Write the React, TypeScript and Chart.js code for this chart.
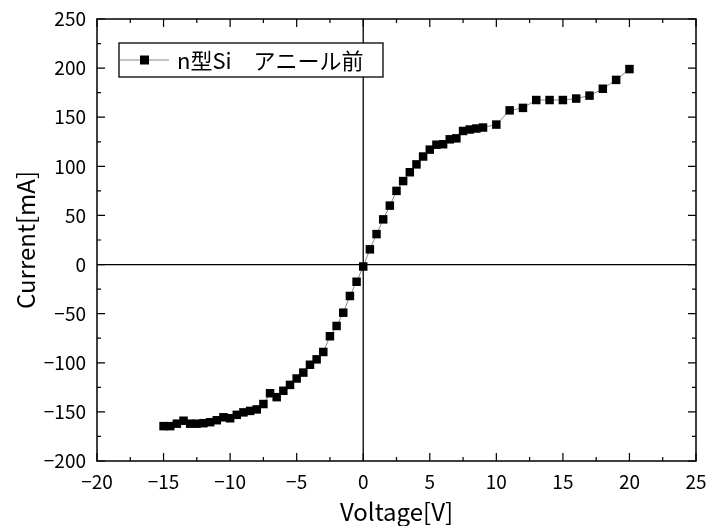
import React, { useEffect, useRef } from "react";
import { Chart, registerables } from "chart.js";

Chart.register(...registerables);

// I-V sweep of the n-type Si sample before annealing
const voltage = [
  -15, -14.5, -14, -13.5, -13, -12.5, -12, -11.5, -11, -10.5, -10, -9.5, -9, -8.5, -8, -7.5,
  -7, -6.5, -6, -5.5, -5, -4.5, -4, -3.5, -3, -2.5, -2, -1.5, -1, -0.5, 0, 0.5, 1, 1.5, 2,
  2.5, 3, 3.5, 4, 4.5, 5, 5.5, 6, 6.5, 7, 7.5, 8, 8.5, 9, 10, 11, 12, 13, 14, 15, 16, 17, 18,
  19, 20,
];
const current = [
  -164.5, -164.5, -162, -159, -162, -162, -161.5, -160.5, -158.5, -155.5, -156.5, -153, -150.5,
  -149, -147.5, -142, -131, -135, -128.5, -122.5, -116, -110, -102, -96.5, -89, -73, -62.5, -49,
  -32, -17.5, -2, 15.5, 31, 46, 60, 75, 85, 94, 102, 110, 117, 122, 122.5, 127.5, 128.5, 136,
  137.5, 138.5, 139.5, 142.5, 157, 159.5, 167.5, 167.5, 167.5, 169, 172, 179, 188, 199,
];

const seriesLabel = "n型Si\u3000アニール前";
const xTitle = "Voltage[V]";
const yTitle = "Current[mA]";

const xMin = -20, xMax = 25, xStep = 5;
const yMin = -200, yMax = 250, yStep = 50;

const family = '"Noto Sans CJK JP", "Noto Sans", sans-serif';

const withMinus = (v: number | string) => String(v).replace("-", "\u2212");

// Frame, inward ticks on all four sides, and the zero cross-hair
const framePlugin = {
  id: "originFrame",
  beforeDatasetsDraw(chart: any) {
    const { ctx, chartArea: a, scales } = chart;
    const x0 = scales.x.getPixelForValue(0);
    const y0 = scales.y.getPixelForValue(0);
    ctx.save();
    ctx.strokeStyle = "#000";
    ctx.lineWidth = 1.3;
    ctx.beginPath();
    ctx.moveTo(x0, a.top);
    ctx.lineTo(x0, a.bottom);
    ctx.moveTo(a.left, y0);
    ctx.lineTo(a.right, y0);
    ctx.stroke();
    ctx.restore();
  },
  afterDatasetsDraw(chart: any) {
    const { ctx, chartArea: a, scales } = chart;
    const major = 8, minor = 4;
    ctx.save();
    ctx.strokeStyle = "#000";
    ctx.lineWidth = 1.5;
    ctx.strokeRect(a.left, a.top, a.right - a.left, a.bottom - a.top);
    ctx.lineWidth = 1.2;
    ctx.beginPath();
    for (let v = xMin; v <= xMax + 1e-9; v += xStep / 2) {
      const px = scales.x.getPixelForValue(v);
      const len = Math.abs(v % xStep) < 1e-9 ? major : minor;
      ctx.moveTo(px, a.bottom);
      ctx.lineTo(px, a.bottom - len);
      ctx.moveTo(px, a.top);
      ctx.lineTo(px, a.top + len);
    }
    for (let v = yMin; v <= yMax + 1e-9; v += yStep / 2) {
      const py = scales.y.getPixelForValue(v);
      const len = Math.abs(v % yStep) < 1e-9 ? major : minor;
      ctx.moveTo(a.left, py);
      ctx.lineTo(a.left + len, py);
      ctx.moveTo(a.right, py);
      ctx.lineTo(a.right - len, py);
    }
    ctx.stroke();
    ctx.restore();
  },
  afterDraw(chart: any) {
    // legend box in the upper-left corner of the plot
    const { ctx, chartArea: a } = chart;
    const bx = a.left + 22, by = a.top + 24, bw = 264, bh = 34;
    const cy = by + bh / 2;
    ctx.save();
    ctx.fillStyle = "#fff";
    ctx.fillRect(bx, by, bw, bh);
    ctx.strokeStyle = "#000";
    ctx.lineWidth = 1.3;
    ctx.strokeRect(bx, by, bw, bh);
    ctx.strokeStyle = "#888";
    ctx.lineWidth = 1;
    ctx.beginPath();
    ctx.moveTo(bx + 1, cy);
    ctx.lineTo(bx + 50, cy);
    ctx.stroke();
    ctx.fillStyle = "#000";
    ctx.fillRect(bx + 21, cy - 4.5, 9, 9);
    ctx.font = `22px ${family}`;
    ctx.textBaseline = "middle";
    ctx.textAlign = "left";
    ctx.fillText(seriesLabel, bx + 58, cy + 1);
    ctx.restore();
  },
};

export default function App() {
  const canvasRef = useRef<HTMLCanvasElement | null>(null);

  useEffect(() => {
    if (!canvasRef.current) return;
    const points = voltage.map((v, i) => ({ x: v, y: current[i] }));
    const chart = new Chart(canvasRef.current, {
      type: "scatter",
      data: {
        datasets: [
          {
            label: seriesLabel,
            data: points,
            showLine: true,
            borderColor: "#888",
            borderWidth: 1,
            pointStyle: "rect",
            pointRadius: 6,
            pointHoverRadius: 6,
            pointBackgroundColor: "#000",
            pointBorderColor: "#000",
            pointBorderWidth: 0,
          },
        ],
      },
      plugins: [framePlugin],
      options: {
        animation: false,
        responsive: false,
        maintainAspectRatio: false,
        events: [],
        layout: { padding: { top: 19, right: 13, left: 0, bottom: 0 } },
        plugins: { legend: { display: false }, tooltip: { enabled: false } },
        scales: {
          x: {
            type: "linear",
            position: "bottom",
            min: xMin,
            max: xMax,
            afterFit: (s: any) => {
              s.height = 65;
              s.paddingLeft = 0;
              s.paddingRight = 0;
            },
            grid: { display: false, drawTicks: false },
            border: { display: false },
            ticks: {
              stepSize: xStep,
              color: "#000",
              padding: 9,
              maxRotation: 0,
              font: { family, size: 19 },
              callback: (v: any) => withMinus(v),
            },
            title: {
              display: true,
              text: xTitle,
              color: "#000",
              font: { family, size: 24 },
              padding: { top: 0, bottom: 0 },
            },
          },
          y: {
            type: "linear",
            min: yMin,
            max: yMax,
            afterFit: (s: any) => {
              s.width = 97;
              s.paddingTop = 0;
              s.paddingBottom = 0;
            },
            grid: { display: false, drawTicks: false },
            border: { display: false },
            ticks: {
              stepSize: yStep,
              color: "#000",
              padding: 11,
              font: { family, size: 19 },
              callback: (v: any) => withMinus(v),
            },
            title: {
              display: true,
              text: yTitle,
              color: "#000",
              font: { family, size: 24 },
              padding: { top: 11, bottom: 0 },
            },
          },
        },
      },
    });
    return () => chart.destroy();
  }, []);

  return (
    <div style={{ position: "fixed", left: 0, top: 0, width: 709, height: 526, background: "#fff" }}>
      <canvas ref={canvasRef} width={709} height={526} style={{ display: "block" }} />
    </div>
  );
}
